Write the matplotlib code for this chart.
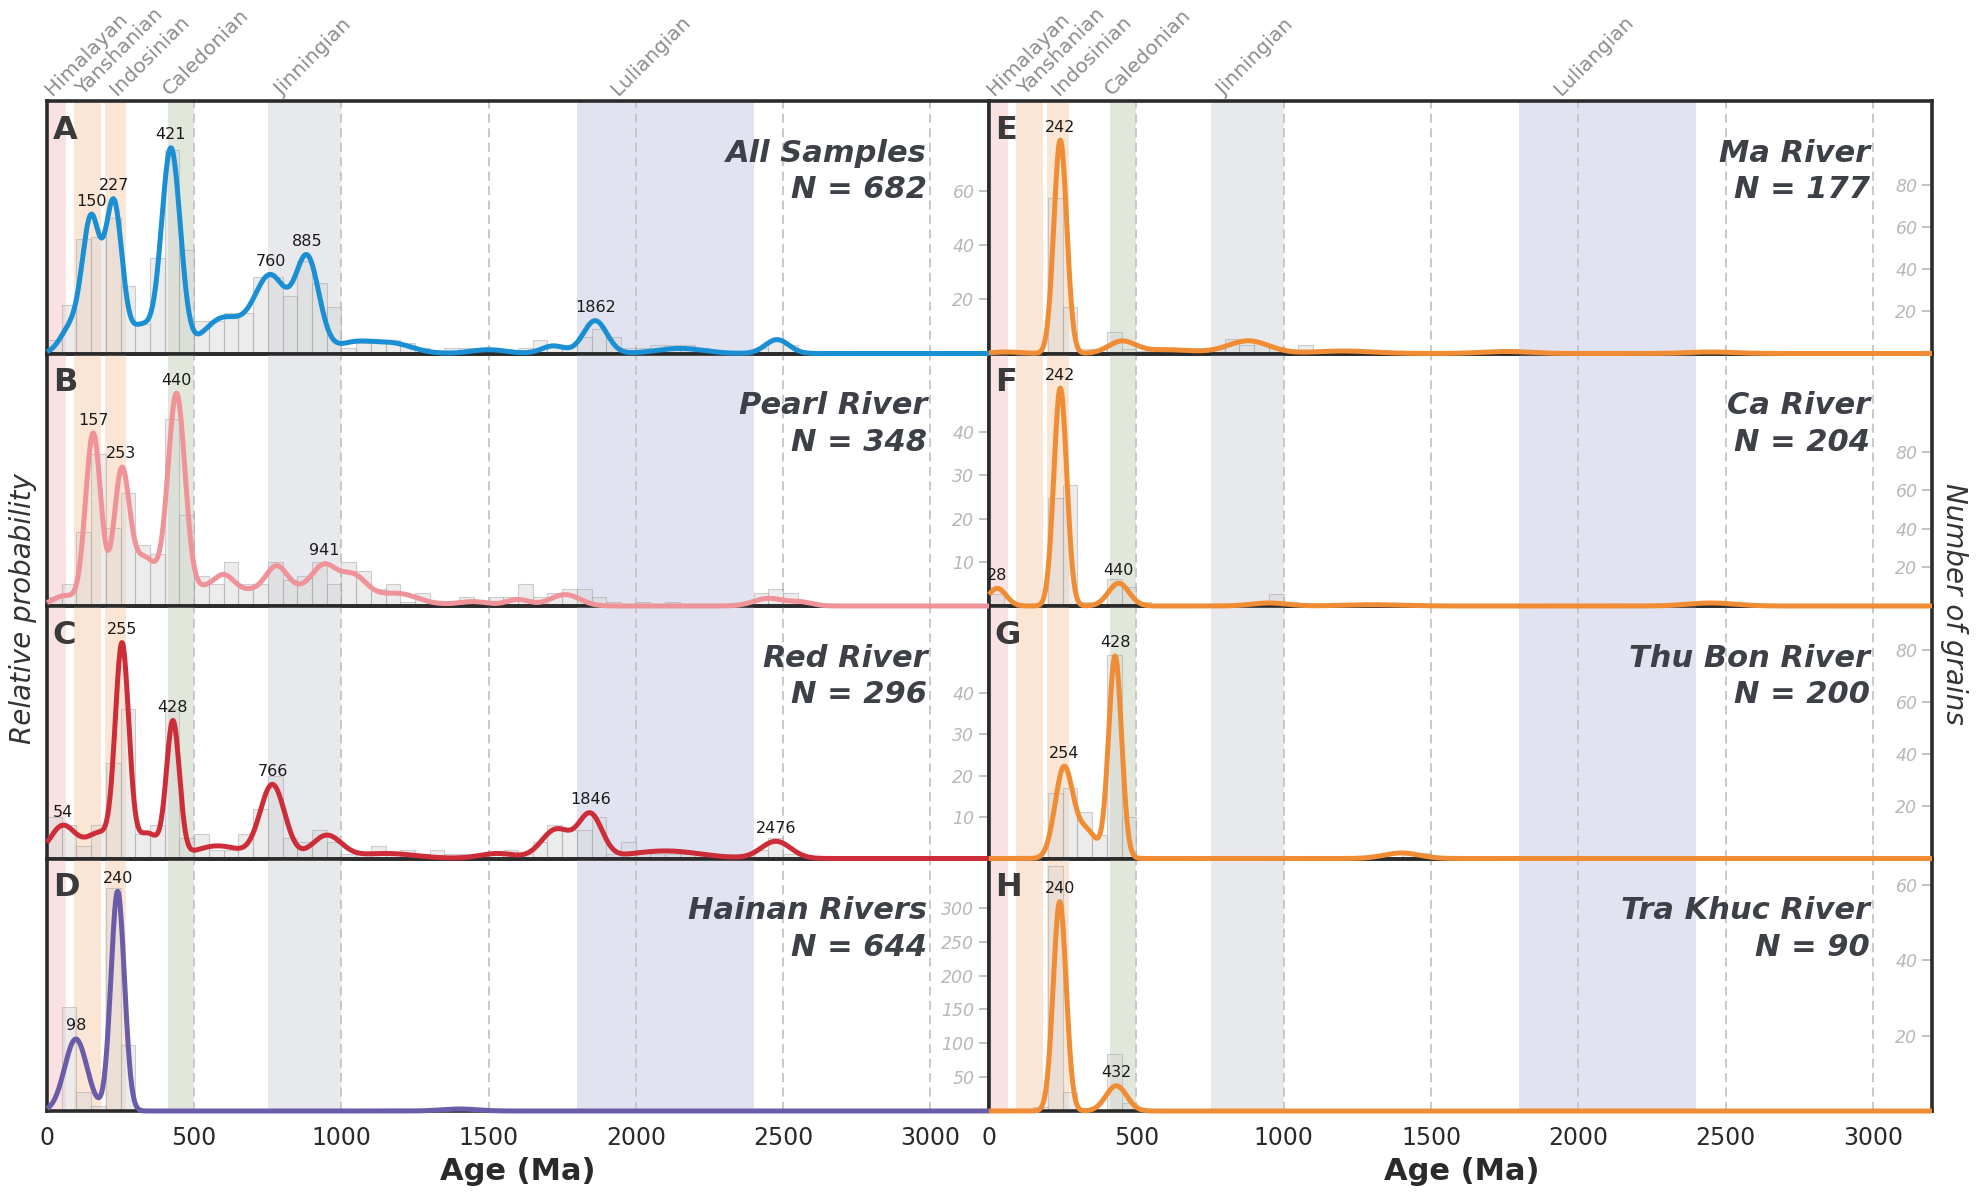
import numpy as np
import matplotlib.pyplot as plt
import matplotlib.transforms as mtransforms

plt.rcParams['font.family'] = ['DejaVu Sans']

# tectonic periods (Ma)
period_names = ['Himalayan', 'Yanshanian', 'Indosinian', 'Caledonian', 'Jinningian', 'Luliangian']
period_start = [0, 92, 198, 410, 752, 1800]
period_end = [65, 182, 270, 500, 1000, 2400]
period_label_x = [26, 131, 248, 428, 808, 1951]
period_colors = ['#fbe2e2', '#fbe6d5', '#fbe6d5', '#e2e7db', '#e8e9ec', '#e1e3f1']

# panels
panel_letters = ['A', 'B', 'C', 'D', 'E', 'F', 'G', 'H']
sample_names = ['All Samples', 'Pearl River', 'Red River', 'Hainan Rivers',
                'Ma River', 'Ca River', 'Thu Bon River', 'Tra Khuc River']
n_grains = [682, 348, 296, 644, 177, 204, 200, 90]

# histogram counts per 50 Ma bin, starting at 0 Ma
a_counts = [5, 18, 42, 43, 50, 25, 11, 35, 75, 38, 12, 12, 15, 15, 28, 28, 21, 34, 26, 17,
            2, 4, 4, 5, 4, 2, 1, 2, 2, 2, 1, 1, 2, 5, 3, 3, 6, 9, 6, 2,
            2, 3, 3, 3, 2, 1, 1, 1, 2, 5, 3, 1, 1, 0, 1, 0, 0, 0, 0, 0, 1]
b_counts = [2, 5, 17, 35, 18, 26, 14, 12, 43, 21, 7, 5, 10, 5, 5, 10, 6, 7, 10, 5,
            10, 8, 4, 5, 1, 3, 1, 1, 2, 1, 2, 2, 5, 2, 3, 4, 4, 2, 1, 0,
            1, 0, 1, 0, 0, 0, 0, 0, 3, 4, 3, 1]
c_counts = [10, 8, 3, 8, 23, 36, 6, 8, 36, 5, 6, 2, 2, 6, 12, 20, 5, 4, 7, 4,
            1, 1, 3, 1, 2, 1, 2, 1, 1, 1, 1, 2, 1, 4, 8, 7, 7, 10, 1, 4,
            2, 1, 1, 1, 1, 1, 1, 1, 2, 5, 1]
d_counts = [2, 153, 28, 7, 330, 98, 1, 0, 0, 0, 0, 0, 0, 0, 0, 0, 0, 0, 0, 0,
            0, 0, 0, 0, 0, 0, 0, 0, 6]
e_counts = [0, 0, 0, 0, 74, 22, 2, 2, 10, 2, 1, 0, 0, 0, 0, 2, 7, 4, 5, 3,
            0, 4, 0, 0, 0, 0, 1, 0, 0, 0, 0, 0, 0, 0, 1, 2, 0, 0, 0, 0,
            0, 0, 0, 0, 0, 0, 0, 0, 0, 1]
f_counts = [6, 0, 0, 0, 56, 63, 2, 1, 14, 10, 2, 0, 0, 0, 0, 0, 0, 0, 0, 6,
            2, 0, 0, 0, 0, 0, 0, 0, 0, 0, 0, 0, 0, 0, 0, 0, 0, 0, 0, 0,
            0, 0, 0, 0, 0, 0, 0, 0, 0, 2]
g_counts = [0, 0, 0, 0, 25, 27, 18, 9, 78, 16, 0, 0, 0, 0, 0, 0, 0, 0, 0, 0,
            0, 0, 0, 0, 0, 0, 0, 0, 2, 2]
h_counts = [0, 0, 0, 1, 65, 5, 0, 0, 15, 2]

# probability-density peaks: age (Ma), height (fraction of panel), spread (Ma)
a_peak_age = [80, 150, 227, 320, 421, 600, 760, 885, 1040, 1170, 1500, 1720, 1862, 2150, 2480]
a_peak_amp = [0.10, 0.525, 0.585, 0.11, 0.805, 0.14, 0.30, 0.366, 0.04, 0.04, 0.015, 0.03, 0.13, 0.02, 0.055]
a_peak_sd = [35, 30, 28, 40, 32, 70, 55, 40, 60, 70, 60, 40, 40, 80, 40]

b_peak_age = [60, 157, 253, 330, 440, 520, 600, 780, 800, 941, 1040, 1200, 1450, 1600, 1760, 2450, 2560]
b_peak_amp = [0.04, 0.68, 0.50, 0.18, 0.805, 0.03, 0.07, 0.09, 0.07, 0.10, 0.08, 0.03, 0.015, 0.025, 0.045, 0.03, 0.015]
b_peak_sd = [40, 26, 26, 45, 29, 40, 35, 35, 250, 40, 45, 60, 50, 40, 50, 50, 40]

c_peak_age = [54, 180, 255, 340, 428, 580, 766, 950, 1150, 1530, 1730, 1846, 2100, 2476]
c_peak_amp = [0.13, 0.10, 0.82, 0.10, 0.53, 0.05, 0.29, 0.09, 0.02, 0.02, 0.115, 0.17, 0.03, 0.068]
c_peak_sd = [45, 45, 23, 40, 22, 80, 42, 50, 100, 60, 50, 40, 120, 50]

d_peak_age = [98, 240, 1400]
d_peak_amp = [0.285, 0.87, 0.008]
d_peak_sd = [38, 23, 60]

e_peak_age = [60, 242, 450, 600, 880, 1200, 1750, 2450]
e_peak_amp = [0.006, 0.845, 0.045, 0.015, 0.05, 0.01, 0.008, 0.006]
e_peak_sd = [50, 22, 45, 100, 70, 100, 80, 80]

f_peak_age = [28, 242, 440, 950, 1300, 2450]
f_peak_amp = [0.07, 0.863, 0.09, 0.012, 0.005, 0.012]
f_peak_sd = [30, 22, 35, 60, 100, 80]

g_peak_age = [254, 330, 428, 1400]
g_peak_amp = [0.355, 0.11, 0.80, 0.022]
g_peak_sd = [30, 35, 22, 60]

h_peak_age = [240, 432]
h_peak_amp = [0.829, 0.10]
h_peak_sd = [22, 35]

# labelled peak ages
a_labels = [150, 227, 421, 760, 885, 1862]
b_labels = [157, 253, 440, 941]
c_labels = [54, 255, 428, 766, 1846, 2476]
d_labels = [98, 240]
e_labels = [242]
f_labels = [28, 242, 440]
g_labels = [254, 428]
h_labels = [240, 432]

counts_all = [a_counts, b_counts, c_counts, d_counts, e_counts, f_counts, g_counts, h_counts]
peak_ages = [a_peak_age, b_peak_age, c_peak_age, d_peak_age, e_peak_age, f_peak_age, g_peak_age, h_peak_age]
peak_amps = [a_peak_amp, b_peak_amp, c_peak_amp, d_peak_amp, e_peak_amp, f_peak_amp, g_peak_amp, h_peak_amp]
peak_sds = [a_peak_sd, b_peak_sd, c_peak_sd, d_peak_sd, e_peak_sd, f_peak_sd, g_peak_sd, h_peak_sd]
label_ages = [a_labels, b_labels, c_labels, d_labels, e_labels, f_labels, g_labels, h_labels]

line_colors = ['#1a8fd4', '#ef9399', '#cd2d38', '#6a5ca8', '#f08c33', '#f08c33', '#f08c33', '#f08c33']
count_top = [93, 58, 61, 373, 120, 131, 97, 67]
count_ticks = [[20, 40, 60], [10, 20, 30, 40], [10, 20, 30, 40], [50, 100, 150, 200, 250, 300],
               [20, 40, 60, 80], [20, 40, 60, 80], [20, 40, 60, 80], [20, 40, 60]]

age_grid = np.linspace(0, 3200, 1601)
bin_width = 50


def density_curve(ages, amps, sds):
    x = age_grid[:, None]
    comps = np.array(amps) * np.exp(-0.5 * ((x - np.array(ages)) / np.array(sds)) ** 2)
    return comps.sum(axis=1)


fig = plt.figure(figsize=(19.76, 11.94), dpi=100)
col_x = [47 / 1976, 989 / 1976]
col_w = [942 / 1976, 943 / 1976]
top = 1 - 101 / 1194
row_h = (1111 - 101) / 4 / 1194
frame_color = '#2b2b2b'

for i in range(8):
    col, row = i // 4, i % 4
    ax = fig.add_axes([col_x[col], top - (row + 1) * row_h, col_w[col], row_h])
    ax2 = ax.twinx()
    ax2.set_zorder(ax.get_zorder() + 1)
    ax.patch.set_visible(False)

    ax.set_xlim(0, 3200)
    ax.set_ylim(0, count_top[i])

    # age bands and reference lines
    for s, e, c in zip(period_start, period_end, period_colors):
        ax.axvspan(s, e, color=c, lw=0, zorder=0)
    for xv in range(500, 3001, 500):
        ax.axvline(xv, color='#c4c4c4', lw=1.3, ls=(0, (5, 3)), zorder=1)

    # histogram
    counts = counts_all[i]
    starts = np.arange(len(counts)) * bin_width
    ax.bar(starts, counts, width=bin_width, align='edge', color='#d6d6d6', alpha=0.45,
           edgecolor='#9c9c9c', linewidth=0.8, zorder=2)

    # count axis, ticks inside on the right
    ax.yaxis.tick_right()
    ax.set_yticks(count_ticks[i])
    ax.tick_params(axis='y', direction='in', length=7, width=1.2, colors='#b8b8b8',
                   labelsize=12.5, pad=-10.5)
    plt.setp(ax.get_yticklabels(), ha='right', fontstyle='italic')

    ax.set_xticks(range(0, 3001, 500))
    ax.tick_params(axis='x', length=0, labelsize=17, pad=11, colors='#2a2a2a',
                   labelbottom=(row == 3))
    for sp in ax.spines.values():
        sp.set_color(frame_color)
        sp.set_linewidth(2.6)

    # probability density curve
    ax2.set_ylim(0, 1)
    ax2.set_yticks([])
    for sp in ax2.spines.values():
        sp.set_visible(False)
    curve = density_curve(peak_ages[i], peak_amps[i], peak_sds[i])
    ax2.plot(age_grid, curve, color=line_colors[i], lw=3.6, clip_on=False,
             solid_capstyle='butt', zorder=3)

    for age in label_ages[i]:
        win = (age_grid > age - 15) & (age_grid < age + 15)
        yv = curve[win].max()
        ax2.annotate(str(age), xy=(age, yv), xytext=(0, 4), textcoords='offset points',
                     ha='center', va='bottom', fontsize=11.5, color='#1a1a1a', zorder=5)

    ax2.text(0.006, 0.945, panel_letters[i], transform=ax2.transAxes, ha='left', va='top',
             fontsize=23, fontweight='bold', color='#3a3a3a')
    ax2.text(2990, 0.76, sample_names[i], ha='right', va='baseline', fontsize=22,
             fontweight='bold', fontstyle='italic', color='#3d4047')
    ax2.text(2990, 0.615, f'N = {n_grains[i]}', ha='right', va='baseline', fontsize=22,
             fontweight='bold', fontstyle='italic', color='#3d4047')

    if row == 0:
        trans = mtransforms.blended_transform_factory(ax.transData, ax.transAxes)
        for name, xl in zip(period_names, period_label_x):
            ax.text(xl, 1.008, name, transform=trans, rotation=45, rotation_mode='anchor',
                    ha='left', va='bottom', fontsize=14.5, color='#8c8c8c', clip_on=False)

fig.text(0.262, 0.019, 'Age (Ma)', ha='center', va='center', fontsize=22,
         fontweight='bold', color='#2a2a2a')
fig.text(0.740, 0.019, 'Age (Ma)', ha='center', va='center', fontsize=22,
         fontweight='bold', color='#2a2a2a')
fig.text(0.0116, 0.49, 'Relative probability', rotation=90, ha='center', va='center',
         fontsize=20, fontstyle='italic', color='#333333')
fig.text(0.989, 0.494, 'Number of grains', rotation=270, ha='center', va='center',
         fontsize=20, fontstyle='italic', color='#333333')

fig.savefig('out.png', dpi=100, facecolor='white')
